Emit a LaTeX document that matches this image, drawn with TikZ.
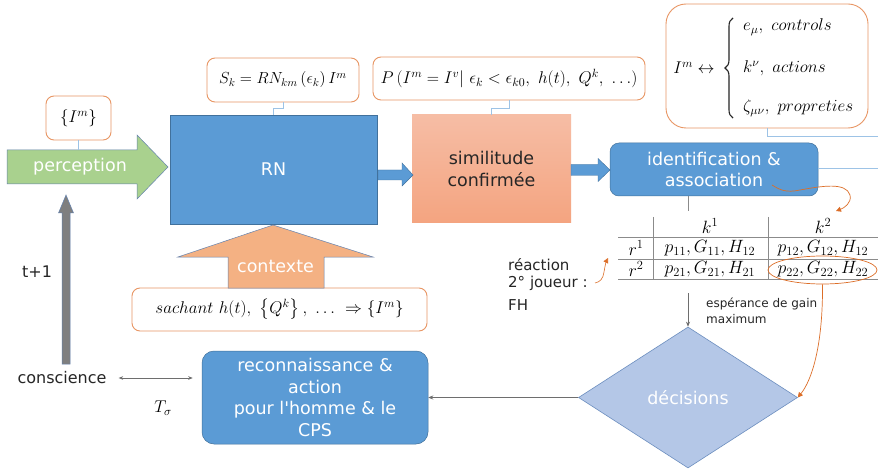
\RequirePackage{fix-cm}
\documentclass[tikz,border=0pt]{standalone}
\usepackage{amsmath}
\usepackage{fontspec}
\setmainfont{DejaVu Sans}
\usetikzlibrary{shapes.geometric,arrows.meta,calc,decorations.pathreplacing}
\definecolor{boxblue}{RGB}{91,155,213}
\definecolor{boxblueborder}{RGB}{65,113,156}
\definecolor{boxorange}{RGB}{232,150,100}
\definecolor{connblue}{RGB}{157,195,230}
\definecolor{simtop}{RGB}{246,189,165}
\definecolor{simbot}{RGB}{244,164,128}
\definecolor{greenfill}{RGB}{169,209,142}
\definecolor{ctxfill}{RGB}{244,177,131}
\definecolor{arrborder}{RGB}{100,130,175}
\definecolor{decfill}{RGB}{180,199,231}
\definecolor{decborder}{RGB}{108,142,191}
\definecolor{grayfill}{RGB}{127,127,127}
\definecolor{lineGray}{RGB}{110,110,110}
\definecolor{curveorange}{RGB}{220,110,40}
\definecolor{textdark}{RGB}{38,38,38}
\newcommand\lblfont{\fontsize{17.5}{21.5}\selectfont}
\newcommand\mfont{\fontsize{17}{20}\selectfont}
\newcommand\smallfont{\fontsize{12}{16}\selectfont}
\begin{document}
\begin{tikzpicture}[x=1pt,y=-1pt,
  plainblue/.style={fill=boxblue, draw=boxblueborder, line width=0.5pt, text=white, font=\lblfont, align=center, inner sep=0pt},
  bluebox/.style={plainblue, rounded corners=9pt},
  simbox/.style={top color=simtop, bottom color=simbot, draw=none, text=textdark, font=\lblfont, align=center, inner sep=0pt},
  decbox/.style={diamond, fill=decfill, draw=decborder, line width=0.6pt, text=white, font=\lblfont, inner sep=0pt, minimum width=219pt, minimum height=141pt},
  mathbox/.style={rounded corners=8pt, draw=boxorange, fill=white, line width=0.9pt, inner sep=0pt, font=\mfont},
  conn/.style={draw=connblue, line width=0.7pt},
  blockarrow/.style={draw=arrborder, line width=0.5pt},
  grayarr/.style={draw=lineGray, line width=0.6pt, -{Stealth[length=5pt,width=4pt]}},
  orangearr/.style={draw=curveorange, line width=0.7pt, -{Triangle[length=5pt,width=5pt]}},
  tabline/.style={draw=lineGray!80, line width=0.7pt},
  plainlbl/.style={inner sep=0pt, text=textdark},
  mathlbl/.style={inner sep=0pt, font=\mfont},
  cellfont/.style={inner sep=0pt, font=\fontsize{17.8}{20}\selectfont}
]
\useasboundingbox[fill=white] (0,0) rectangle (878,473);

% main boxes
\node[plainblue, minimum width=207pt, minimum height=109pt] (rn) at (273.5,169.5) {RN};
\node[simbox, minimum width=159pt, minimum height=108pt] (sim) at (491.5,169) {similitude\\confirmée};
\node[bluebox, minimum width=208pt, minimum height=53pt] (ident) at (714,169.5) {identification \&\\association};
\node[bluebox, rounded corners=12pt, minimum width=226pt, minimum height=93pt] (recon) at (315,397.5) {reconnaissance \&\\action\\pour l\textquotesingle homme \& le\\CPS};
\node[decbox] (dec) at (688,397.5) {décisions};

% formula boxes
\node[mathbox, minimum width=65pt, minimum height=44pt] (im) at (78.5,118) {$\{I^m\}$};
\node[mathbox, font=\fontsize{16}{19}\selectfont, minimum width=152pt, minimum height=44pt] (sk) at (283,80) {$S_k = RN_{km}\left(\epsilon_k\right) I^m$};
\node[mathbox, minimum width=272pt, minimum height=43pt] (pb) at (509,78.5) {$P\,(I^m = I^v|\ \epsilon_k < \epsilon_{k0},\ h(t),\ Q^k,\ \ldots)$};
\node[mathbox, rounded corners=20pt, minimum width=202pt, minimum height=124pt] (br) at (767,66) {};
\node[mathlbl] (imrel) at (694,68) {$I^m \leftrightarrow$};
\coordinate (braceBot) at (733,118);
\coordinate (braceTop) at (733,18);
\draw[line width=1.1pt, textdark, decorate, decoration={brace, amplitude=8pt}] (braceBot) -- (braceTop);
\node[mathlbl, anchor=west] (itc) at (743,27) {$e_{\mu},\ controls$};
\node[mathlbl, anchor=west] (ita) at (743,68) {$k^{\nu},\ actions$};
\node[mathlbl, anchor=west] (itp) at (743,108) {$\zeta_{\mu\nu},\ propreties$};
\node[mathbox, minimum width=295pt, minimum height=43pt] (sach) at (279.5,309.5) {$sachant\ h(t),\ \left\{Q^k\right\},\ \ldots\ \Rightarrow \left\{I^m\right\}$};

% block arrows
\draw[blockarrow, fill=greenfill] (7,150) -- (137,150) -- (137,135) -- (168,167) -- (137,199) -- (137,184) -- (7,184) -- cycle;
\node[inner sep=0pt, text=white, font=\lblfont] (perc) at (80,167) {perception};
\draw[blockarrow, fill=ctxfill] (273,225) -- (373,257) -- (324,257) -- (324,288) -- (228,288) -- (228,257) -- (178,257) -- cycle;
\node[inner sep=0pt, text=white, font=\lblfont] (ctx) at (275.5,266) {contexte};
\draw[blockarrow, fill=grayfill] (66,195) -- (73.5,213) -- (70,213) -- (70,364) -- (62,364) -- (62,213) -- (58.5,213) -- cycle;
\draw[draw=boxblueborder, line width=0.4pt, fill=boxblue] (378,170) -- (402,170) -- (402,163) -- (413,175) -- (402,186) -- (402,180) -- (378,180) -- cycle;
\draw[draw=boxblueborder, line width=0.4pt, fill=boxblue] (571,164.5) -- (598,164.5) -- (598,158.5) -- (610,170) -- (598,181.5) -- (598,175.5) -- (571,175.5) -- cycle;

% light blue connectors
\coordinate (percTop) at (78.5,150);
\draw[conn] (im.south) -- (percTop);
\draw[conn] (sk.south) -- ++(0,6) -| (rn.north);
\draw[conn] (pb.south) -- ++(0,7.5) -| (sim.north);
\coordinate (brEnd) at (878,136);
\draw[conn] (br.south) |- (brEnd);
\coordinate (idEnd) at (878,168);
\draw[conn] (ident.east |- idEnd) -- (idEnd);

% table
\coordinate (tabtop) at (688,211);
\draw[tabline] (ident.south -| tabtop) -- (tabtop);
\draw[tabline] (618,237) -- (878,237);
\draw[tabline] (618,259) -- (878,259);
\draw[tabline] (618,279) -- (878,279);
\draw[tabline] (653,217) -- (653,279);
\draw[tabline] (768,217) -- (768,279);
\node[cellfont] (k1) at (710,226) {$k^1$};
\node[cellfont] (k2) at (823,226) {$k^2$};
\node[cellfont] (r1) at (636,248) {$r^1$};
\node[cellfont] (r2) at (636,269) {$r^2$};
\node[cellfont] (c11) at (710,248) {$p_{11}, G_{11}, H_{12}$};
\node[cellfont] (c12) at (823,248) {$p_{12}, G_{12}, H_{12}$};
\node[cellfont] (c21) at (710,269) {$p_{21}, G_{21}, H_{21}$};
\node[cellfont] (c22) at (823,269) {$p_{22}, G_{22}, H_{22}$};
\node[ellipse, draw=curveorange, line width=0.7pt, minimum width=109pt, minimum height=28pt, inner sep=0pt] (ell) at (822.5,270) {};

% labels
\node[plainlbl, font=\fontsize{16}{19}\selectfont] (tp1) at (37,272) {t+1};
\node[plainlbl, font=\fontsize{16}{19}\selectfont] (consc) at (62,378) {conscience};
\node[mathlbl] (tsig) at (163,408) {$T_\sigma$};
\node[plainlbl, font=\fontsize{15}{17}\selectfont, align=left, anchor=west] (react) at (508,274.5) {réaction\\2° joueur :};
\node[plainlbl, font=\fontsize{15}{17}\selectfont, anchor=west] (fh) at (508,305) {FH};
\node[plainlbl, font=\smallfont, align=left, anchor=west] (esp) at (706,311) {espérance de gain\\maximum};

% gray connectors
\coordinate (tabbot) at (688,293);
\draw[grayarr] (tabbot) -- (dec.north);
\draw[grayarr] (dec.west) -- (recon.east |- dec.west);
\draw[draw=lineGray, line width=0.6pt, {Stealth[length=4.5pt,width=3.5pt]}-{Stealth[length=4.5pt,width=3.5pt]}, shorten <=12pt, shorten >=9pt] (consc.east) -- (recon.west |- consc.east);

% orange curves
\coordinate (assocEnd) at (772,185);
\coordinate (k2tip) at (836,211);
\draw[orangearr] (assocEnd) .. controls (780,190) and (786,193) .. (800,190) .. controls (822,186) and (846,182) .. (850,195) .. controls (852,203) and (844,208) .. (k2tip);
\draw[orangearr] (ell.south) .. controls (823,345) and (812,380) .. (dec.east);
\coordinate (reactStart) at (595,283);
\coordinate (reactTip) at (608,258);
\draw[orangearr, line width=0.6pt] (reactStart) .. controls (600,282) and (603,279) .. (604,272) .. controls (605,266) and (606,262) .. (reactTip);
\end{tikzpicture}
\end{document}
